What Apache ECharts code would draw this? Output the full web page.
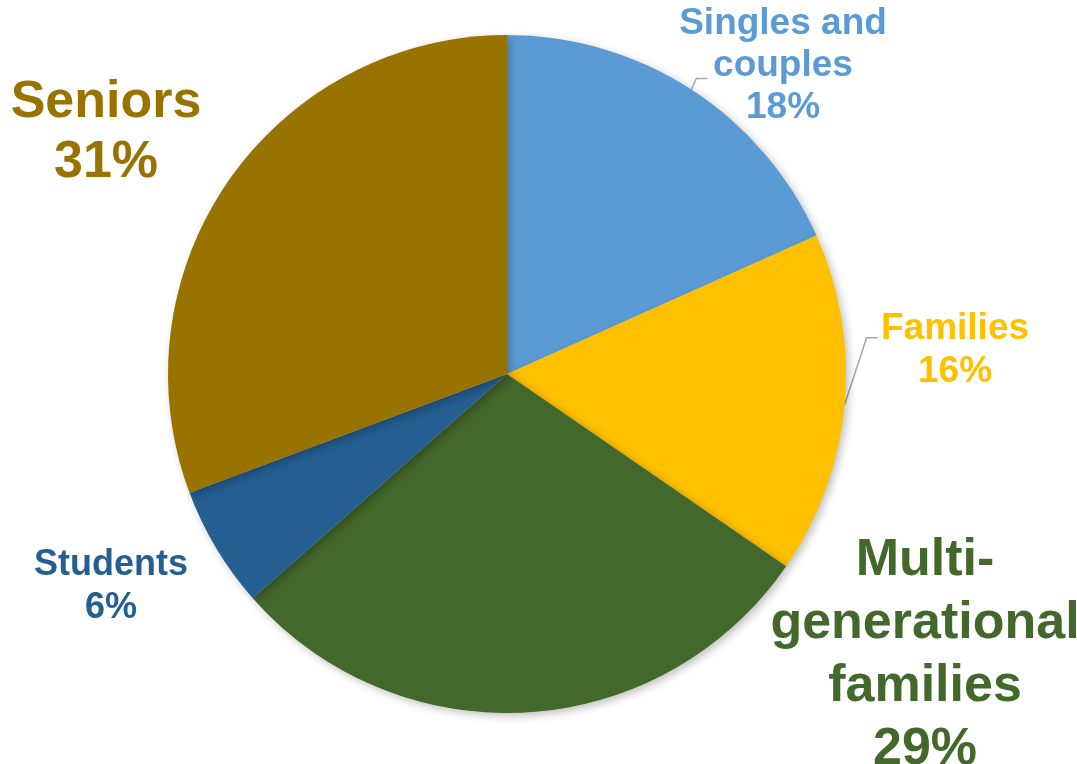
<!DOCTYPE html>
<html>
<head>
<meta charset="utf-8">
<script src="https://cdn.jsdelivr.net/npm/echarts@6/dist/echarts.min.js"></script>
<style>
html,body{margin:0;padding:0;background:#fff;}
#c{width:1077px;height:764px;}
</style>
</head>
<body>
<div id="c"></div>
<script>
var categories = ['Singles and\ncouples', 'Families', 'Multi-\ngenerational\nfamilies', 'Students', 'Seniors'];
var values = [18.3, 16.3, 28.9, 5.8, 30.7];
var colors = ['#5B9BD5', '#FFC000', '#43682B', '#255E91', '#997300'];

// label styling / placement (style only)
var labelFont = [37, 37, 52, 36, 52];
var labelLH = [42, 43, 63, 43, 60];
var labelPos = [[783, 66], [955, 350], [925, 655], [111, 587], [106, 133]];
var showLine = [true, true, false, false, false];
// leader line bends: [outward offset, horizontal length]
var lineBend = [[[5, -11], 11], [[22, -67], 11], null, null, null];

var chart = echarts.init(document.getElementById('c'));
var data = categories.map(function (n, i) {
  return {
    name: n,
    value: values[i],
    itemStyle: { color: colors[i] },
    label: { color: colors[i], fontSize: labelFont[i], lineHeight: labelLH[i] },
    labelLine: { show: showLine[i] }
  };
});
chart.setOption({
  animation: false,
  series: [{
    type: 'pie',
    center: [507, 374],
    radius: 339,
    startAngle: 90,
    clockwise: true,
    data: data,
    itemStyle: {
      borderWidth: 0,
      shadowBlur: 8,
      shadowColor: 'rgba(0,0,0,0.25)',
      shadowOffsetX: 3,
      shadowOffsetY: 3
    },
    label: {
      show: true,
      position: 'outside',
      fontFamily: '"Liberation Sans", Arial, sans-serif',
      fontWeight: 'bold',
      align: 'center',
      formatter: function (p) { return p.name + '\n' + Math.round(p.percent) + '%'; }
    },
    labelLine: {
      show: true,
      lineStyle: { color: '#A6A6A6', width: 1.5 },
      length: 10,
      length2: 10
    },
    labelLayout: function (p) {
      var i = p.dataIndex;
      var pos = labelPos[i];
      var res = { x: pos[0], y: pos[1], align: 'center', verticalAlign: 'middle' };
      var b = lineBend[i];
      if (b && p.labelLinePoints && p.labelLinePoints.length) {
        var p0 = p.labelLinePoints[0];
        var p1 = [p0[0] + b[0][0], p0[1] + b[0][1]];
        var p2 = [p1[0] + b[1], p1[1]];
        res.labelLinePoints = [p0, p1, p2];
      }
      return res;
    }
  }]
});
</script>
</body>
</html>
